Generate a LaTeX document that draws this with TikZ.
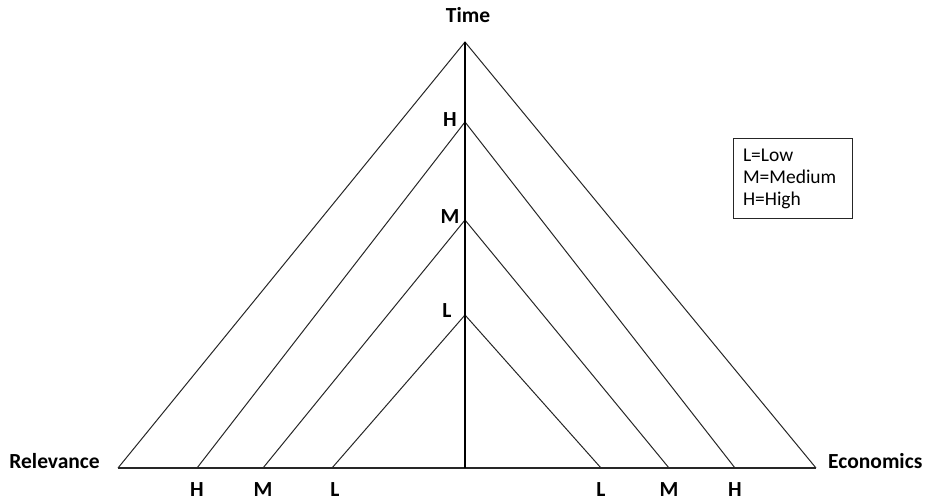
\documentclass[tikz,border=0pt]{standalone}
\usepackage{fontspec}
\setmainfont{Carlito}
\usepackage{tikz}
\usetikzlibrary{positioning}

\begin{document}
\begin{tikzpicture}[
  x=1pt, y=-1pt,
  side/.style={draw=black!85, line width=1pt},
  axis/.style={draw=black, line width=2.6pt},
  base/.style={draw=black!85, line width=1.5pt},
  lbl/.style={font=\fontsize{21.5}{24}\selectfont\bfseries, inner sep=0pt},
  legend/.style={draw=black!85, line width=1pt, align=left,
    font=\fontsize{19.5}{22}\selectfont, inner sep=0pt,
    minimum width=119pt, minimum height=80pt, text width=99pt}
]
  \useasboundingbox (0,0) rectangle (928,502);

  % Apexes on the time axis
  \coordinate (top) at (465,42);
  \coordinate (hi) at (465,122);
  \coordinate (mid) at (465,220);
  \coordinate (lo) at (465,315);
  \coordinate (foot) at (465,468);

  % Base corners
  \coordinate (relO) at (118,468);
  \coordinate (relH) at (197,468);
  \coordinate (relM) at (263,468);
  \coordinate (relL) at (332,468);
  \coordinate (ecoL) at (601,468);
  \coordinate (ecoM) at (669,468);
  \coordinate (ecoH) at (735,468);
  \coordinate (ecoO) at (816,468);

  % Nested triangles
  \draw[side] (relO) -- (top) -- (ecoO);
  \draw[side] (relH) -- (hi) -- (ecoH);
  \draw[side] (relM) -- (mid) -- (ecoM);
  \draw[side] (relL) -- (lo) -- (ecoL);
  \draw[base] (relO) -- (ecoO);
  \draw[axis] (top) -- (foot);

  % Axis labels
  \node[lbl] (time) at (468,15) {Time};
  \node[lbl, left=18pt of relO, yshift=7pt] (rel) {Relevance};
  \node[lbl, right=12pt of ecoO, yshift=7pt] (eco) {Economics};

  % Level labels on the time axis
  \node[lbl] (tH) at (450,120) {H};
  \node[lbl] (tM) at (450,217) {M};
  \node[lbl] (tL) at (447,311) {L};

  % Level labels under the base
  \node[lbl] (rH) at ([yshift=-22pt]relH) {H};
  \node[lbl] (rM) at ([yshift=-22pt]relM) {M};
  \node[lbl] (rL) at ([xshift=3pt, yshift=-22pt]relL) {L};
  \node[lbl] (eL) at ([yshift=-22pt]ecoL) {L};
  \node[lbl] (eM) at ([yshift=-22pt]ecoM) {M};
  \node[lbl] (eH) at ([yshift=-22pt]ecoH) {H};

  % Legend
  \node[legend] (key) at (792.5,179) {L=Low\\M=Medium\\H=High};
\end{tikzpicture}
\end{document}
